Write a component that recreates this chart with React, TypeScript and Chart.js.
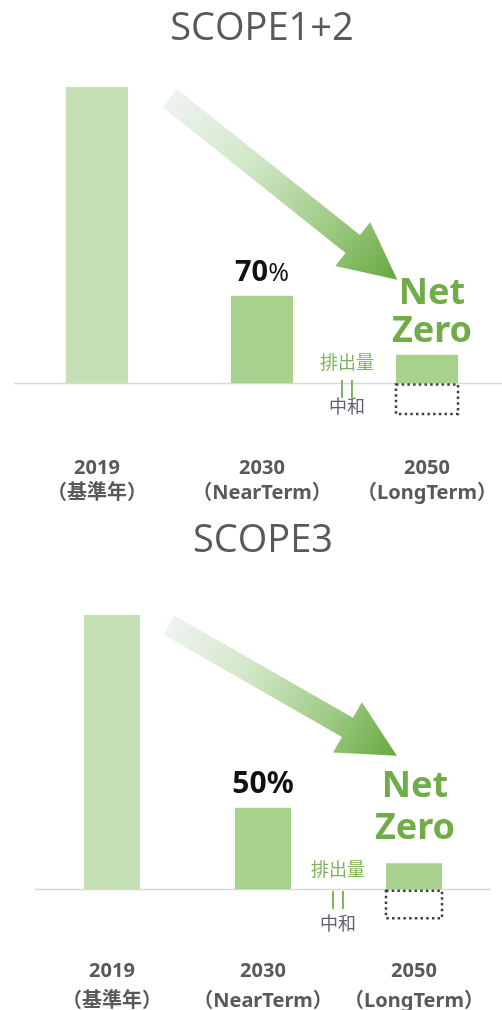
import React, { useEffect, useRef } from "react";
import { Chart, registerables } from "chart.js";

Chart.register(...registerables);

// ---------- data ----------
const categories: string[][] = [
  ["2019", "（基準年）"],
  ["2030", "（NearTerm）"],
  ["2050", "（LongTerm）"],
];
const titles = ["SCOPE1+2", "SCOPE3"];
const scope12Emissions = [100, 29.5, 9.5];
const scope12Neutralized = [null, null, -10.5];
const scope3Emissions = [100, 29.7, 9.5];
const scope3Neutralized = [null, null, -10.6];
const reductionPct = [70, 50];
const targetLabel = ["Net", "Zero"];
const noteLabel = ["排出量", "||", "中和"];
// arrow anchors in (category index, value) coordinates
const scope12Arrow = { from: [0.44, 96.3], to: [1.82, 34.9] };
const scope3Arrow = { from: [0.377, 96.3], to: [1.887, 48.7] };

const barColors = ["#c5e0b4", "#a9d18e", "#a9d18e"];
const GREEN = "#70ad47";
const GRAY = "#595959";
const SANS = "'Noto Sans', 'Noto Sans CJK JP', sans-serif";

type Panel = {
  title: string;
  values: number[];
  neutral: (number | null)[];
  pct: number;
  pctSplit: boolean;
  arrow: { from: number[]; to: number[] };
  height: number;
  top: number;
  padLeft: number;
  padRight: number;
  padBottom: number;
  titlePad: { top: number; bottom: number };
  yMin: number;
  cp: number;
  tickPad: number;
  lineHeight: number;
  baseline: [number, number];
  netDx: number;
  netDy: [number, number];
  pctDy: number;
  pctSize: number;
  noteDx: number;
  noteDy: [number, number, number];
  shaft: number;
  headW: number;
  headL: number;
};

const panels: Panel[] = [
  {
    title: titles[0],
    values: scope12Emissions,
    neutral: scope12Neutralized,
    pct: reductionPct[0],
    pctSplit: true,
    arrow: scope12Arrow,
    height: 511,
    top: 0,
    padLeft: 97,
    padRight: 75,
    padBottom: 0,
    titlePad: { top: 6.2, bottom: 35.2 },
    yMin: -23,
    cp: 0.376,
    tickPad: 5,
    lineHeight: 25,
    baseline: [14, 502],
    netDx: 5,
    netDy: [-61, -23],
    pctDy: -23,
    pctSize: 29,
    noteDx: -80,
    noteDy: [-19, 6, 25],
    shaft: 23,
    headW: 56,
    headL: 57,
  },
  {
    title: titles[1],
    values: scope3Emissions,
    neutral: scope3Neutralized,
    pct: reductionPct[1],
    pctSplit: false,
    arrow: scope3Arrow,
    height: 515,
    top: 505,
    padLeft: 112,
    padRight: 88,
    padBottom: 2,
    titlePad: { top: 13.2, bottom: 51.2 },
    yMin: -24,
    cp: 0.371,
    tickPad: 1.5,
    lineHeight: 30,
    baseline: [35, 491],
    netDx: 1,
    netDy: [-76, -34],
    pctDy: -23,
    pctSize: 30,
    noteDx: -76,
    noteDy: [-18, 11, 36],
    shaft: 22,
    headW: 58,
    headL: 57,
  },
];

function makeDecor(p: Panel) {
  return {
    id: "decor",
    beforeDatasetsDraw(chart: any) {
      const ctx = chart.ctx;
      const ys = chart.scales.y;
      const y0 = Math.round(ys.getPixelForValue(0)) + 0.5;
      ctx.save();
      ctx.strokeStyle = "#d9d9d9";
      ctx.lineWidth = 1.5;
      ctx.beginPath();
      ctx.moveTo(p.baseline[0], y0);
      ctx.lineTo(p.baseline[1], y0);
      ctx.stroke();
      ctx.restore();
    },
    afterDatasetsDraw(chart: any) {
      const ctx = chart.ctx;
      const xs = chart.scales.x;
      const ys = chart.scales.y;
      const barMeta = chart.getDatasetMeta(0);
      const neutMeta = chart.getDatasetMeta(1);

      // dotted box for neutralized amount
      neutMeta.data.forEach((el: any, i: number) => {
        if (p.neutral[i] == null) return;
        const { x, y, base, width } = el.getProps(["x", "y", "base", "width"], true);
        ctx.save();
        ctx.strokeStyle = "#3f3f3f";
        ctx.lineWidth = 2.5;
        ctx.setLineDash([2.5, 3.2]);
        ctx.strokeRect(x - width / 2, base + 1.5, width, y - base - 1.5);
        ctx.restore();
      });

      // arrow
      const x1 = xs.getPixelForValue(p.arrow.from[0]);
      const y1 = ys.getPixelForValue(p.arrow.from[1]);
      const x2 = xs.getPixelForValue(p.arrow.to[0]);
      const y2 = ys.getPixelForValue(p.arrow.to[1]);
      const dx = x2 - x1, dy = y2 - y1;
      const L = Math.hypot(dx, dy);
      const ux = dx / L, uy = dy / L;
      const nx = -uy, ny = ux;
      const sw = p.shaft / 2, hw = p.headW / 2;
      const bx = x2 - ux * p.headL, by = y2 - uy * p.headL;
      const g = ctx.createLinearGradient(x1, y1, x2, y2);
      g.addColorStop(0, "rgba(236,242,238,0.9)");
      g.addColorStop(0.35, "#d2e7c8");
      g.addColorStop(0.7, "#9fcb85");
      g.addColorStop(1, "#66a83f");
      ctx.save();
      ctx.fillStyle = g;
      ctx.beginPath();
      ctx.moveTo(x1 + nx * sw, y1 + ny * sw);
      ctx.lineTo(bx + nx * sw, by + ny * sw);
      ctx.lineTo(bx + nx * hw, by + ny * hw);
      ctx.lineTo(x2, y2);
      ctx.lineTo(bx - nx * hw, by - ny * hw);
      ctx.lineTo(bx - nx * sw, by - ny * sw);
      ctx.lineTo(x1 - nx * sw, y1 - ny * sw);
      ctx.closePath();
      ctx.fill();
      ctx.restore();

      // labels
      const b1 = barMeta.data[1].getProps(["x", "y"], true);
      const b2 = barMeta.data[2].getProps(["x", "y", "base"], true);
      ctx.save();
      ctx.textBaseline = "middle";
      // percentage
      ctx.fillStyle = "#111111";
      const num = String(p.pct);
      if (p.pctSplit) {
        ctx.font = `bold ${p.pctSize}px ${SANS}`;
        const w1 = ctx.measureText(num).width;
        ctx.font = `normal ${p.pctSize - 4}px ${SANS}`;
        const w2 = ctx.measureText("%").width;
        const sx = b1.x - (w1 + w2) / 2;
        ctx.textAlign = "left";
        ctx.font = `bold ${p.pctSize}px ${SANS}`;
        ctx.fillText(num, sx, b1.y + p.pctDy);
        ctx.font = `normal ${p.pctSize - 4}px ${SANS}`;
        ctx.fillText("%", sx + w1, b1.y + p.pctDy + 1);
      } else {
        ctx.textAlign = "center";
        ctx.font = `bold ${p.pctSize}px ${SANS}`;
        ctx.fillText(num + "%", b1.x, b1.y + p.pctDy);
      }
      // Net Zero
      ctx.textAlign = "center";
      ctx.fillStyle = GREEN;
      ctx.font = `bold 36px ${SANS}`;
      ctx.fillText(targetLabel[0], b2.x + p.netDx, b2.y + p.netDy[0]);
      ctx.fillText(targetLabel[1], b2.x + p.netDx, b2.y + p.netDy[1]);
      // 排出量 || 中和
      const nxp = b2.x + p.noteDx;
      ctx.font = `normal 18px ${SANS}`;
      ctx.fillStyle = "#7cb356";
      ctx.fillText(noteLabel[0], nxp, b2.base + p.noteDy[0]);
      ctx.font = `bold 18px ${SANS}`;
      ctx.fillText(noteLabel[1], nxp, b2.base + p.noteDy[1]);
      ctx.font = `normal 18px ${SANS}`;
      ctx.fillStyle = "#5f5f70";
      ctx.fillText(noteLabel[2], nxp, b2.base + p.noteDy[2]);
      ctx.restore();
    },
  };
}

function ChartPanel({ p }: { p: Panel }) {
  const ref = useRef<HTMLCanvasElement | null>(null);
  useEffect(() => {
    if (!ref.current) return;
    const chart = new Chart(ref.current, {
      type: "bar",
      data: {
        labels: categories as any,
        datasets: [
          {
            label: "排出量",
            data: p.values,
            backgroundColor: barColors,
            borderWidth: 0,
            categoryPercentage: p.cp,
            barPercentage: 1,
            clip: false as any,
          },
          {
            label: "中和",
            data: p.neutral as any,
            backgroundColor: "rgba(0,0,0,0)",
            borderWidth: 0,
            categoryPercentage: p.cp,
            barPercentage: 1,
            clip: false as any,
          },
        ],
      },
      options: {
        responsive: false,
        animation: false,
        events: [],
        layout: { padding: { left: p.padLeft, right: p.padRight, top: 0, bottom: p.padBottom } },
        plugins: {
          legend: { display: false },
          tooltip: { enabled: false },
          title: {
            display: true,
            text: p.title,
            color: GRAY,
            font: { family: "'Open Sans', sans-serif", size: 38, weight: "normal", lineHeight: 1.2 },
            padding: p.titlePad,
          },
        },
        scales: {
          x: {
            type: "category",
            offset: false,
            stacked: true,
            grid: { display: false, drawTicks: false },
            border: { display: false },
            ticks: {
              color: GRAY,
              autoSkip: false,
              maxRotation: 0,
              padding: p.tickPad,
              font: { family: SANS, size: 20, weight: "bold", lineHeight: p.lineHeight / 20 },
            },
          },
          y: { display: false, stacked: true, min: p.yMin, max: 100 },
        },
      },
      plugins: [makeDecor(p)],
    } as any);
    return () => chart.destroy();
  }, [p]);
  return (
    <canvas
      ref={ref}
      width={502}
      height={p.height}
      style={{ position: "absolute", left: 0, top: p.top, width: 502, height: p.height, display: "block" }}
    />
  );
}

export default function App() {
  return (
    <div
      style={{
        position: "absolute",
        left: 0,
        top: 0,
        width: 502,
        height: 1010,
        overflow: "hidden",
        background: "#ffffff",
      }}
    >
      {panels.map((p, i) => (
        <ChartPanel key={i} p={p} />
      ))}
    </div>
  );
}
